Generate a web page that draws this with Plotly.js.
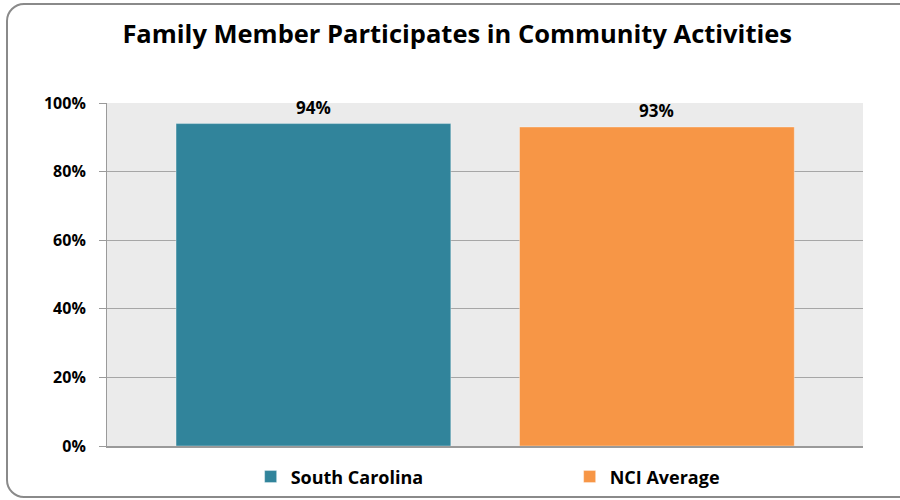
<!DOCTYPE html>
<html>
<head>
<meta charset="utf-8">
<script src="https://cdn.plot.ly/plotly-3.0.1.min.js"></script>
<style>
  html, body { margin: 0; padding: 0; background: #ffffff; overflow: hidden; }
  #wrap { position: relative; width: 900px; height: 500px; }
  #frame { position: absolute; left: 6px; top: 3px; width: 910px; height: 495px;
           border: 2px solid #8a8a8a; border-radius: 18px; box-sizing: border-box; }
  #chart { position: absolute; left: 0; top: 0; width: 900px; height: 500px; }
</style>
</head>
<body>
<div id="wrap">
  <div id="frame"></div>
  <div id="chart"></div>
</div>
<script>
const categories = ["South Carolina", "NCI Average"];
const values = [94, 93];
const colors = ["#31849B", "#F79646"];
const yTicks = [0, 20, 40, 60, 80, 100];
const yTickLabels = ["0%", "20%", "40%", "60%", "80%", "100%"];
const chartTitle = "Family Member Participates in Community Activities";

const FONT = "Open Sans, Liberation Sans, sans-serif";

const traces = categories.map((c, i) => ({
  type: "bar",
  name: c,
  x: [c],
  y: [values[i]],
  width: 0.8,
  marker: { color: colors[i], line: { color: "rgba(255,255,255,0.35)", width: 1 } },
  hoverinfo: "skip"
}));

const annotations = categories.map((c, i) => ({
  x: c, y: values[i], xref: "x", yref: "y",
  text: values[i] + "%",
  showarrow: false,
  yanchor: "bottom",
  yshift: 3,
  font: { family: FONT, size: 17, color: "#000000", weight: "bold" }
}));

const layout = {
  width: 900, height: 500,
  paper_bgcolor: "rgba(0,0,0,0)",
  plot_bgcolor: "#EBEBEB",
  margin: { l: 107, r: 37, t: 103, b: 54, autoexpand: false },
  title: {
    text: "<b>" + chartTitle + "</b>",
    x: 0.508, xanchor: "center", y: 0.932, yanchor: "middle",
    font: { family: FONT, size: 25.5, color: "#000000" }
  },
  barmode: "group",
  showlegend: true,
  legend: {
    orientation: "h", x: 0.19, xanchor: "left", y: -0.036, yanchor: "top",
    font: { family: FONT, size: 18, color: "#000000", weight: "bold" },
    entrywidth: 274, entrywidthmode: "pixels",
    itemclick: false, itemdoubleclick: false
  },
  xaxis: {
    type: "category",
    range: [-0.601, 1.6],
    showticklabels: false,
    ticks: "",
    showgrid: false,
    zeroline: false,
    showline: true, linecolor: "#9a9a9a", linewidth: 2,
    fixedrange: true
  },
  yaxis: {
    range: [0, 100],
    tickvals: yTicks,
    ticktext: yTickLabels,
    ticks: "outside", ticklen: 7, tickcolor: "#9a9a9a", tickwidth: 1,
    showgrid: true, gridcolor: "#a6a6a6", gridwidth: 1,
    zeroline: false,
    showline: true, linecolor: "#9a9a9a", linewidth: 1,
    tickfont: { family: FONT, size: 16, color: "#000000", weight: "bold" },
    ticklabelstandoff: 10,
    fixedrange: true
  },
  annotations: annotations
};

Plotly.newPlot("chart", traces, layout, { displayModeBar: false, staticPlot: true });
</script>
</body>
</html>
